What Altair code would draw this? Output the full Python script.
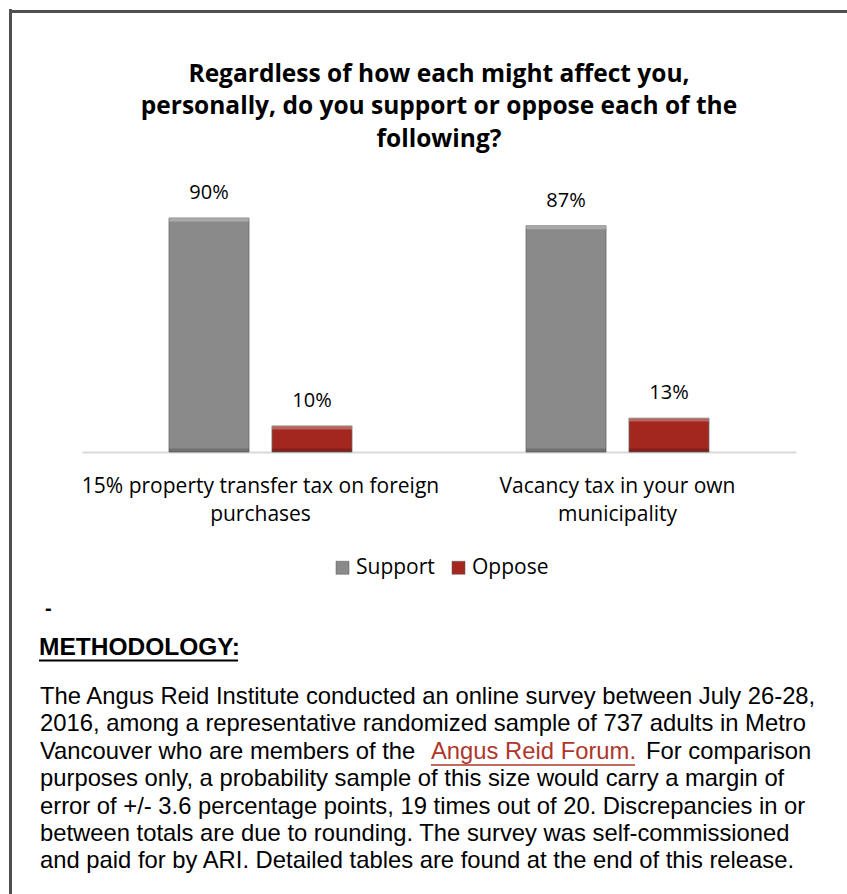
import altair as alt
import pandas as pd

# ---------------- data ----------------
categories = ["15% property transfer tax on foreign purchases",
              "Vacancy tax in your own municipality"]
label_line1 = ["15% property transfer tax on foreign", "Vacancy tax in your own"]
label_line2 = ["purchases", "municipality"]
series = ["Support", "Oppose"]
support = [90, 87]
oppose = [10, 13]
colors = ["#8a8a8a", "#a3271f"]

title_lines = ["Regardless of how each might affect you,",
               "personally, do you support or oppose each of the",
               "following?"]
para_lines = [
    "The Angus Reid Institute conducted an online survey between July 26-28,",
    "2016, among a representative randomized sample of 737 adults in Metro",
    "Vancouver who are members of the",
    "purposes only, a probability sample of this size would carry a margin of",
    "error of +/- 3.6 percentage points, 19 times out of 20. Discrepancies in or",
    "between totals are due to rounding. The survey was self-commissioned",
    "and paid for by ARI. Detailed tables are found at the end of this release.",
]
link_text = "Angus Reid Forum."
after_link = "For comparison"

rows = []
for i, c in enumerate(categories):
    rows.append({"category": c, "series": "Support", "value": support[i]})
    rows.append({"category": c, "series": "Oppose", "value": oppose[i]})
df = pd.DataFrame(rows)
lab_df = pd.DataFrame({"category": categories, "l1": label_line1, "l2": label_line2})

# ---------------- layout ----------------
W, H = 714, 260
LEFT, TOP = 82, 192
CAL = "Open Sans"
ARIAL = "Liberation Sans"

x_enc = alt.X("category:N", sort=categories,
              scale=alt.Scale(paddingInner=0, paddingOuter=0),
              axis=alt.Axis(title=None, labels=False, ticks=False, grid=False,
                            domain=True, domainColor="#d9d9d9", domainWidth=2))
xo_enc = alt.XOffset("series:N", sort=series,
                     scale=alt.Scale(paddingInner=0.223, paddingOuter=0.845))
y_enc = alt.Y("value:Q", scale=alt.Scale(domain=[0, 100]), axis=None)

bars = alt.Chart(df).mark_bar(stroke="#6a6a6a", strokeWidth=0.8).encode(
    x=x_enc, xOffset=xo_enc, y=y_enc,
    color=alt.Color("series:N", sort=series,
                    scale=alt.Scale(domain=series, range=colors),
                    legend=alt.Legend(orient="none", legendX=250, legendY=365,
                                      direction="horizontal", title=None,
                                      symbolType="square", symbolSize=169,
                                      symbolStrokeColor="#555", symbolStrokeWidth=0.5,
                                      labelFont=CAL, labelFontSize=21,
                                      labelColor="#000", labelOffset=3,
                                      columnPadding=13, padding=0)),
)

# bevel-like highlight (top) and shade (bottom)
hi = alt.Chart(df).transform_calculate(top2="datum.value - 1.3").mark_bar(
    color="white", opacity=0.28).encode(
    x=alt.X("category:N", sort=categories), xOffset=alt.XOffset("series:N", sort=series),
    y=alt.Y("value:Q"), y2="top2:Q")
sh = alt.Chart(df).transform_calculate(z="0", b="1.3").mark_bar(
    color="black", opacity=0.18).encode(
    x=alt.X("category:N", sort=categories), xOffset=alt.XOffset("series:N", sort=series),
    y=alt.Y("z:Q"), y2="b:Q")

vlabels = alt.Chart(df).transform_calculate(lbl="datum.value + '%'").mark_text(
    font=CAL, fontSize=20, baseline="middle", dy=-25, color="#000").encode(
    x=alt.X("category:N", sort=categories), xOffset=alt.XOffset("series:N", sort=series),
    y=alt.Y("value:Q"), text="lbl:N",
)

cat1 = alt.Chart(lab_df).mark_text(font=CAL, fontSize=21, baseline="middle", color="#000").encode(
    x=alt.X("category:N", sort=categories), y=alt.value(487 - TOP), text="l1:N")
cat2 = alt.Chart(lab_df).mark_text(font=CAL, fontSize=21, baseline="middle", color="#000").encode(
    x=alt.X("category:N", sort=categories), y=alt.value(515 - TOP), text="l2:N")


def txt(s, x, y, size, font, weight="normal", color="#000", align="left"):
    return alt.Chart(pd.DataFrame({"t": [s]})).mark_text(
        font=font, fontSize=size, fontWeight=weight, color=color,
        align=align, baseline="middle").encode(
        x=alt.value(x - LEFT), y=alt.value(y - TOP), text="t:N")


def hline(x1, x2, y, color, w):
    return alt.Chart(pd.DataFrame({"t": [0]})).mark_rule(color=color, strokeWidth=w).encode(
        x=alt.value(x1 - LEFT), x2=alt.value(x2 - LEFT), y=alt.value(y - TOP))


def vline(x, y1, y2, color, w):
    return alt.Chart(pd.DataFrame({"t": [0]})).mark_rule(color=color, strokeWidth=w).encode(
        x=alt.value(x - LEFT), y=alt.value(y1 - TOP), y2=alt.value(y2 - TOP))


layers = [bars, hi, sh, vlabels, cat1, cat2]
# title
for s, yy in zip(title_lines, [75, 107, 140]):
    layers.append(txt(s, 439, yy, 24.5, CAL, weight="bold", align="center"))
# border
layers.append(vline(10.5, 9, 894, "#505050", 3))
layers.append(hline(9, 847, 11.5, "#505050", 3))
# methodology
layers.append(txt("-", 45, 609, 20, ARIAL, weight="bold"))
layers.append(txt("METHODOLOGY:", 39, 648, 24.5, ARIAL, weight="bold"))
layers.append(hline(39, 238, 660.5, "#000", 2))
ys = [697, 724, 752, 779, 807, 834, 861]
for s, yy in zip(para_lines, ys):
    layers.append(txt(s, 40, yy, 23.8, ARIAL))
layers.append(txt(link_text, 431, ys[2], 23.8, ARIAL, color="#b0362b"))
layers.append(hline(431, 635, ys[2] + 13, "#b0362b", 1.5))
layers.append(txt(after_link, 646, ys[2], 23.8, ARIAL))

chart = alt.layer(*layers).properties(
    width=W, height=H,
    autosize=alt.AutoSizeParams(type="none"),
    padding={"left": LEFT, "top": TOP, "right": 847 - LEFT - W, "bottom": 894 - TOP - H},
    background="white",
).configure_view(stroke=None)

chart.save("out.html", embed_options={"renderer": "svg", "actions": False})
